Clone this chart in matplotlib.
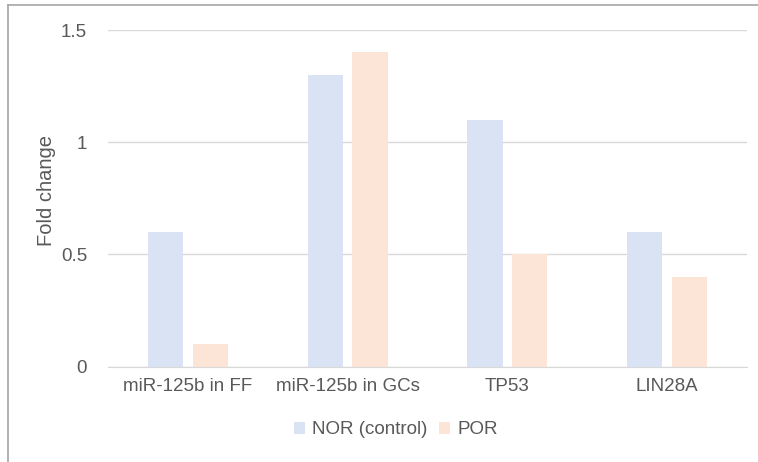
import numpy as np
from matplotlib import pyplot as plt
from matplotlib.lines import Line2D

categories = ['miR-125b in FF', 'miR-125b in GCs', 'TP53', 'LIN28A']
nor_values = [0.6, 1.3, 1.1, 0.6]
por_values = [0.1, 1.4, 0.5, 0.4]
yticks = [0, 0.5, 1, 1.5]
ytick_labels = ['0', '0.5', '1', '1.5']

NOR_COLOR = '#dae3f3'
POR_COLOR = '#fce4d6'
TEXT = '#595959'
GRID = '#d9d9d9'
FS = 13.5

plt.rcParams['font.family'] = ['Liberation Sans', 'DejaVu Sans']

fig = plt.figure(figsize=(7.58, 4.62), dpi=100)
ax = fig.add_axes([0.1425, 0.2063, 0.843, 0.7287])

x = np.arange(len(categories))
w = 0.22
ax.bar(x - 0.14, nor_values, w, color=NOR_COLOR, label='NOR (control)', zorder=3)
ax.bar(x + 0.14, por_values, w, color=POR_COLOR, label='POR', zorder=3)

ax.set_xlim(-0.5, len(categories) - 0.5)
ax.set_ylim(0, 1.5)
ax.set_yticks(yticks)
ax.set_yticklabels(ytick_labels)
ax.set_xticks(x)
ax.set_xticklabels(categories)
ax.yaxis.grid(True, color=GRID, linewidth=1, zorder=0)
ax.tick_params(axis='both', length=0, colors=TEXT, labelsize=FS)
ax.tick_params(axis='y', pad=15)
ax.tick_params(axis='x', pad=8)
for s in ['top', 'right', 'left']:
    ax.spines[s].set_visible(False)
ax.spines['bottom'].set_color(GRID)
ax.set_ylabel('Fold change', color=TEXT, fontsize=14.5)
ax.yaxis.set_label_coords(-0.081, 0.522)

ax.legend(loc='center', bbox_to_anchor=(396 / 758, 1 - 430 / 462), bbox_transform=fig.transFigure,
          ncol=2, frameon=False, fontsize=FS, handlelength=0.6, handleheight=0.6,
          handletextpad=0.4, columnspacing=0.6, labelcolor=TEXT)

# outer border (top and left only, the rest is cropped)
fig.add_artist(Line2D([8 / 758, 1], [1 - 5 / 462, 1 - 5 / 462], color='#a6a6a6', lw=1.2, transform=fig.transFigure))
fig.add_artist(Line2D([8 / 758, 8 / 758], [0, 1 - 5 / 462], color='#a6a6a6', lw=1.2, transform=fig.transFigure))

fig.savefig('out.png', dpi=100)
